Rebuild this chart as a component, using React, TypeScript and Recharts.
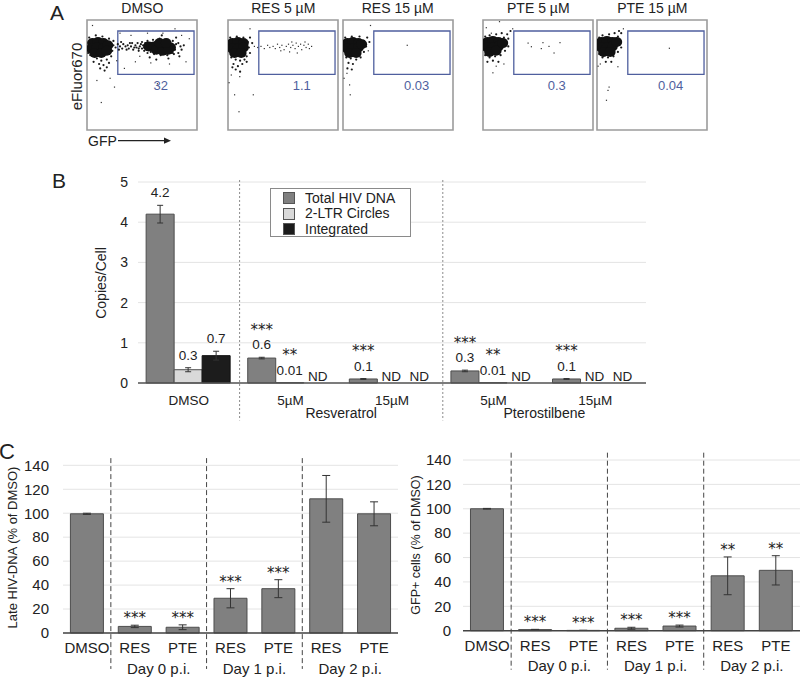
import React from 'react';
import {
  BarChart, Bar, XAxis, YAxis, CartesianGrid, ErrorBar, LabelList, Legend,
  ReferenceLine, ReferenceArea, ReferenceDot, ScatterChart, Scatter,
} from 'recharts';

const FONT = '"Liberation Sans", Arial, Helvetica, sans-serif';
const STAR_FONT = '"DejaVu Sans", sans-serif';
const INK = '#222';
const BAR_GRAY = '#808080';
const BAR_EDGE = '#4d4d4d';
const GATE_BLUE = '#4f5f9e';

// ---------- A: flow cytometry (GFP vs eFluor670), values in 0-100 plot units ----------
const flowTitles = ['DMSO', 'RES 5 µM', 'RES 15 µM', 'PTE 5 µM', 'PTE 15 µM'];
const gateValues = ['32', '1.1', '0.03', '0.3', '0.04'];
const flowTicks = [0, 8, 12, 15, 17.5, 19.5, 21, 22.5, 24, 25, 33, 37, 40, 42.5, 44.5, 46, 47.5, 49, 50,
  58, 62, 65, 67.5, 69.5, 71, 72.5, 74, 75, 83, 87, 90, 92.5, 94.5, 96, 97.5, 99, 100];
const yFlowTicks = [0, 25, 50, 75, 100];

const dmsoCore = [
  { x: 5, y: 79 }, { x: 10, y: 80 }, { x: 15, y: 79 }, { x: 4, y: 74 }, { x: 9, y: 75 }, { x: 15, y: 74 },
  { x: 19, y: 77 }, { x: 7, y: 70 }, { x: 13, y: 70 }, { x: 18, y: 72 },
  { x: 56, y: 76 }, { x: 61, y: 76 }, { x: 66, y: 75 }, { x: 71, y: 76 }, { x: 76, y: 75 },
  { x: 63, y: 73 }, { x: 69, y: 72 }, { x: 74, y: 73 }, { x: 66, y: 79 }, { x: 72, y: 79 },
];
const dmsoHaze = [
  { x: 24, y: 77 }, { x: 26, y: 75 }, { x: 28, y: 78 }, { x: 30, y: 76 }, { x: 32, y: 74 }, { x: 33, y: 78 },
  { x: 35, y: 76 }, { x: 37, y: 77 }, { x: 38, y: 74 }, { x: 40, y: 76 }, { x: 41, y: 79 }, { x: 42, y: 73 },
  { x: 44, y: 77 }, { x: 45, y: 75 }, { x: 46, y: 79 }, { x: 47, y: 72 }, { x: 48, y: 76 }, { x: 49, y: 78 },
  { x: 50, y: 74 }, { x: 43, y: 75 }, { x: 39, y: 79 }, { x: 36, y: 73 }, { x: 29, y: 73 }, { x: 31, y: 80 },
  { x: 51, y: 77 }, { x: 52, y: 75 }, { x: 53, y: 79 }, { x: 54, y: 73 }, { x: 50, y: 80 }, { x: 47, y: 74 },
  { x: 55, y: 81 }, { x: 60, y: 82 }, { x: 66, y: 83 }, { x: 72, y: 82 }, { x: 78, y: 81 }, { x: 83, y: 79 },
  { x: 85, y: 76 }, { x: 86, y: 73 }, { x: 83, y: 70 }, { x: 79, y: 69 }, { x: 73, y: 68 }, { x: 67, y: 68 },
  { x: 61, y: 69 }, { x: 55, y: 70 }, { x: 52, y: 72 }, { x: 88, y: 77 }, { x: 57, y: 66 }, { x: 74, y: 65 },
  { x: 81, y: 84 }, { x: 68, y: 86 }, { x: 63, y: 64 }, { x: 84, y: 67 }, { x: 80, y: 73 }, { x: 81, y: 78 },
  { x: 58, y: 71 }, { x: 59, y: 79 }, { x: 78, y: 70 }, { x: 62, y: 80 },
  { x: 2, y: 84 }, { x: 8, y: 86 }, { x: 14, y: 85 }, { x: 20, y: 83 }, { x: 23, y: 72 }, { x: 22, y: 67 },
  { x: 18, y: 64 }, { x: 13, y: 63 }, { x: 9, y: 65 }, { x: 3, y: 68 }, { x: 15, y: 59 }, { x: 18, y: 57 },
  { x: 11, y: 60 }, { x: 16, y: 54 }, { x: 6, y: 62 }, { x: 20, y: 61 }, { x: 12, y: 56 }, { x: 24, y: 81 },
  { x: 1, y: 70 },
];
const dmsoEvents = [
  { x: 25, y: 39 }, { x: 13, y: 25 }, { x: 5, y: 95 }, { x: 30, y: 88 }, { x: 44, y: 62 }, { x: 58, y: 61 },
  { x: 69, y: 88 }, { x: 90, y: 62 }, { x: 34, y: 56 }, { x: 21, y: 47 }, { x: 80, y: 92 }, { x: 64, y: 42 },
  { x: 93, y: 83 }, { x: 48, y: 67 }, { x: 27, y: 63 }, { x: 9, y: 45 }, { x: 40, y: 86 }, { x: 75, y: 60 },
  { x: 55, y: 88 }, { x: 86, y: 86 },
];

const res5Core = [
  { x: 4, y: 79 }, { x: 9, y: 80 }, { x: 14, y: 79 }, { x: 4, y: 74 }, { x: 9, y: 74 }, { x: 14, y: 75 },
  { x: 6, y: 70 }, { x: 12, y: 70 },
];
const res5Haze = [
  { x: 18, y: 80 }, { x: 19, y: 75 }, { x: 20, y: 70 }, { x: 17, y: 67 }, { x: 2, y: 84 }, { x: 8, y: 85 },
  { x: 14, y: 84 }, { x: 20, y: 84 }, { x: 22, y: 79 }, { x: 3, y: 66 }, { x: 7, y: 64 }, { x: 11, y: 63 },
  { x: 15, y: 64 }, { x: 5, y: 60 }, { x: 9, y: 58 }, { x: 13, y: 60 }, { x: 17, y: 62 }, { x: 7, y: 55 },
  { x: 11, y: 53 }, { x: 4, y: 57 },
];
const res5Events = [
  { x: 24, y: 76 }, { x: 27, y: 75 }, { x: 30, y: 76 }, { x: 33, y: 74 }, { x: 36, y: 77 }, { x: 38, y: 75 },
  { x: 41, y: 76 }, { x: 43, y: 74 }, { x: 45, y: 78 }, { x: 47, y: 75 }, { x: 49, y: 77 }, { x: 51, y: 73 },
  { x: 53, y: 76 }, { x: 55, y: 78 }, { x: 57, y: 75 }, { x: 59, y: 77 }, { x: 61, y: 74 }, { x: 62, y: 79 },
  { x: 64, y: 76 }, { x: 66, y: 78 }, { x: 67, y: 73 }, { x: 69, y: 77 }, { x: 71, y: 75 }, { x: 73, y: 78 },
  { x: 74, y: 74 }, { x: 56, y: 71 }, { x: 63, y: 70 }, { x: 48, y: 72 }, { x: 58, y: 80 }, { x: 70, y: 80 },
  { x: 76, y: 76 }, { x: 10.7, y: 48.5 }, { x: 6, y: 32 }, { x: 10, y: 16.6 }, { x: 23, y: 32 }, { x: 1, y: 43 },
  { x: 20, y: 92 }, { x: 3, y: 50 },
];

const res15Core = [
  { x: 4, y: 79 }, { x: 9, y: 80 }, { x: 14, y: 79 }, { x: 4, y: 74 }, { x: 9, y: 74 }, { x: 14, y: 75 },
  { x: 6, y: 70 }, { x: 12, y: 70 }, { x: 17, y: 78 },
];
const res15Haze = [
  { x: 19, y: 81 }, { x: 21, y: 76 }, { x: 19, y: 71 }, { x: 2, y: 84 }, { x: 8, y: 85 }, { x: 15, y: 85 },
  { x: 22, y: 84 }, { x: 24, y: 80 }, { x: 3, y: 66 }, { x: 7, y: 65 }, { x: 12, y: 64 }, { x: 16, y: 66 },
  { x: 5, y: 61 }, { x: 9, y: 60 }, { x: 4, y: 56 }, { x: 8, y: 55 },
];
const res15Events = [
  { x: 6, y: 41 }, { x: 3.6, y: 51.5 }, { x: 6.6, y: 32 }, { x: 58.4, y: 77 }, { x: 25, y: 95 }, { x: 23, y: 72 },
  { x: 1, y: 47 },
];

const pte5Core = [
  { x: 4, y: 80 }, { x: 9, y: 81 }, { x: 14, y: 80 }, { x: 4, y: 75 }, { x: 9, y: 75 }, { x: 14, y: 76 },
  { x: 6, y: 71 }, { x: 12, y: 72 }, { x: 18, y: 79 },
];
const pte5Haze = [
  { x: 19, y: 84 }, { x: 22, y: 87 }, { x: 25, y: 90 }, { x: 17, y: 88 }, { x: 12, y: 87 }, { x: 6, y: 86 },
  { x: 2, y: 85 }, { x: 21, y: 80 }, { x: 23, y: 76 }, { x: 20, y: 72 }, { x: 16, y: 68 }, { x: 11, y: 67 },
  { x: 6, y: 66 }, { x: 2, y: 68 }, { x: 9, y: 63 }, { x: 14, y: 62 }, { x: 4, y: 62 }, { x: 23, y: 83 },
];
const pte5Events = [
  { x: 15, y: 98.5 }, { x: 9, y: 52 }, { x: 7.6, y: 88 }, { x: 41, y: 79 }, { x: 54.5, y: 79.4 }, { x: 60, y: 76 },
  { x: 70, y: 79.4 }, { x: 64.6, y: 70 }, { x: 44, y: 75.7 }, { x: 53, y: 74 }, { x: 27, y: 92 }, { x: 12, y: 58 },
  { x: 19, y: 60 }, { x: 3, y: 93 },
];

const pte15Core = [
  { x: 4, y: 80 }, { x: 9, y: 81 }, { x: 14, y: 80 }, { x: 4, y: 75 }, { x: 9, y: 75 }, { x: 14, y: 76 },
  { x: 6, y: 71 }, { x: 12, y: 71 }, { x: 18, y: 80 },
];
const pte15Haze = [
  { x: 19, y: 85 }, { x: 22, y: 88 }, { x: 16, y: 88 }, { x: 11, y: 87 }, { x: 5, y: 86 }, { x: 2, y: 84 },
  { x: 21, y: 80 }, { x: 22, y: 75 }, { x: 19, y: 71 }, { x: 15, y: 67 }, { x: 10, y: 66 }, { x: 5, y: 66 },
  { x: 2, y: 69 }, { x: 8, y: 62 }, { x: 13, y: 62 }, { x: 20, y: 90 },
];
const pte15Events = [
  { x: 10, y: 36 }, { x: 8.6, y: 27 }, { x: 19, y: 57.5 }, { x: 65.8, y: 74.3 }, { x: 11, y: 39 }, { x: 3, y: 60 },
  { x: 24, y: 92 }, { x: 1, y: 58 },
];

const flowGate = { x1: 28, x2: 97.3, y1: 50.6, y2: 90 };
const gateLabelPos = { x: 67, y: 41 };

// ---------- B: HIV DNA forms, copies per cell ----------
const bGroups = ['DMSO', 'RES5', 'RES15', 'PTE5', 'PTE15'];
const bTickLabels = ['DMSO', '5µM', '15µM', '5µM', '15µM'];
const bDrugs = ['Resveratrol', 'Pterostilbene'];
const bDrugAt = ['RES15', 'PTE15'];      // drug label sits on the left edge of these groups
const bDividers = ['RES5', 'PTE5'];      // dotted lines on the left edge of these groups
const bTicks = [0, 1, 2, 3, 4, 5];
const bSeries = ['Total HIV DNA', '2-LTR Circles', 'Integrated'];
const totalDNA = [4.2, 0.62, 0.1, 0.3, 0.1];
const totalErr = [0.22, 0.02, 0.01, 0.02, 0.01];
const totalText = ['4.2', '0.6', '0.1', '0.3', '0.1'];
const totalSig = ['', '***', '***', '***', '***'];
const ltrCircles = [0.33, 0.01, 0, 0.01, 0];
const ltrErr = [0.05, 0, 0, 0, 0];
const ltrText = ['0.3', '0.01', 'ND', '0.01', 'ND'];
const ltrSig = ['', '**', '', '**', ''];
const integrated = [0.68, 0, 0, 0, 0];
const integratedErr = [0.11, 0, 0, 0, 0];
const integratedText = ['0.7', 'ND', 'ND', 'ND', 'ND'];
const integratedSig = ['', '', '', '', ''];

// ---------- C: late HIV-DNA and GFP+ cells, % of DMSO ----------
const cKeys = ['DMSO', 'RES0', 'PTE0', 'RES1', 'PTE1', 'RES2', 'PTE2'];
const cTickLabels = ['DMSO', 'RES', 'PTE', 'RES', 'PTE', 'RES', 'PTE'];
const cDays = ['Day 0 p.i.', 'Day 1 p.i.', 'Day 2 p.i.'];
const cDayAt = ['PTE0', 'PTE1', 'PTE2'];
const cDividers = ['RES0', 'RES1', 'RES2'];
const cTicks = [0, 20, 40, 60, 80, 100, 120, 140];
const lateDNA = [99.5, 5.5, 4.8, 29, 37, 112, 99.5];
const lateErr = [0.5, 1, 2, 8, 7.5, 19.5, 10];
const lateSig = ['', '***', '***', '***', '***', '', ''];
const gfpCells = [100, 0.9, 0.25, 2, 3.8, 45, 49.5];
const gfpErr = [0.3, 0.2, 0.1, 0.8, 0.8, 15.5, 12];
const gfpSig = ['', '***', '***', '***', '***', '**', '**'];

const bRows = bGroups.map((g, i) => ({
  group: g, total: totalDNA[i], totalErr: totalErr[i], ltr: ltrCircles[i], ltrErr: ltrErr[i],
  integrated: integrated[i], integratedErr: integratedErr[i],
}));
const lateRows = cKeys.map((k, i) => ({ key: k, value: lateDNA[i], err: lateErr[i] }));
const gfpRows = cKeys.map((k, i) => ({ key: k, value: gfpCells[i], err: gfpErr[i] }));

const flowPanels = [
  { core: dmsoCore, haze: dmsoHaze, events: dmsoEvents },
  { core: res5Core, haze: res5Haze, events: res5Events },
  { core: res15Core, haze: res15Haze, events: res15Events },
  { core: pte5Core, haze: pte5Haze, events: pte5Events },
  { core: pte15Core, haze: pte15Haze, events: pte15Events },
];

// left edges of the five flow boxes (page px)
const flowLeft = [87.3, 228.3, 342.7, 483.3, 597.3];

const CoreDot = (p: any) => <ellipse cx={p.cx} cy={p.cy} rx={5.4} ry={5} fill="#111" />;
const HazeDot = (p: any) => <circle cx={p.cx} cy={p.cy} r={1.1} fill="#1a1a1a" />;
const EventDot = (p: any) => <rect x={p.cx - 0.6} y={p.cy - 0.6} width={1.2} height={1.2} fill="#333" />;

function FlowPlot({ left, core, haze, events, gateValue }: any) {
  return (
    <div style={{ position: 'absolute', left: left - 4, top: 18 }}>
      <ScatterChart width={116} height={116} margin={{ top: 2, right: 2, bottom: 0, left: 0 }}>
        <XAxis type="number" dataKey="x" domain={[0, 100]} allowDataOverflow ticks={flowTicks} interval={0}
          tick={false} axisLine={false} tickSize={2} height={4} stroke="#8a8a8a" />
        <YAxis type="number" dataKey="y" domain={[0, 100]} allowDataOverflow ticks={yFlowTicks} interval={0}
          tick={false} axisLine={false} tickSize={2} width={4} stroke="#8a8a8a" />
        <ReferenceArea x1={0} x2={100} y1={0} y2={100} fill="none" fillOpacity={0} stroke="#9c9c9c" strokeWidth={1.6} />
        <Scatter data={haze} shape={HazeDot} isAnimationActive={false} />
        <Scatter data={core} shape={CoreDot} isAnimationActive={false} />
        <Scatter data={events} shape={EventDot} isAnimationActive={false} />
        <ReferenceArea {...flowGate} fill="none" fillOpacity={0} stroke={GATE_BLUE} strokeWidth={1.3} />
        <ReferenceDot x={gateLabelPos.x} y={gateLabelPos.y} r={0} fill="none" stroke="none"
          label={{ value: gateValue, position: 'center', fill: GATE_BLUE, fontSize: 13, fontFamily: FONT }} />
      </ScatterChart>
    </div>
  );
}

// all value / ND / star labels of one B group, hung off the Total bar (always non-zero)
const bSeriesValues = [totalDNA, ltrCircles, integrated];
const bSeriesErrs = [totalErr, ltrErr, integratedErr];
const bSeriesText = [totalText, ltrText, integratedText];
const bSeriesSig = [totalSig, ltrSig, integratedSig];

const bGroupLabel = (props: any) => {
  const vb = props.viewBox || props;
  const i = props.index ?? 0;
  const { x, y, width, height } = vb;
  const base0 = y + height;
  const ppu = totalDNA[i] > 0 ? height / totalDNA[i] : 0;
  return (
    <g>
      {bSeriesValues.map((vals, j) => {
        const cx = x + width * (j + 0.5);
        const text = bSeriesText[j][i];
        const top = base0 - (vals[i] + bSeriesErrs[j][i]) * ppu;
        const base = text === 'ND' ? base0 - 2.5 : top - 8;
        const sig = bSeriesSig[j][i];
        return (
          <g key={j}>
            <text x={cx} y={base} textAnchor="middle" fontSize={13.5} fill={INK} fontFamily={FONT}>{text}</text>
            {sig ? (
              <text x={cx} y={base - 14.5} textAnchor="middle" fontSize={15} fill={INK} fontFamily={STAR_FONT}>{sig}</text>
            ) : null}
          </g>
        );
      })}
    </g>
  );
};

// significance stars above the error bars of C
const cStars = (values: number[], errs: number[], sigs: string[]) => (props: any) => {
  const vb = props.viewBox || props;
  const i = props.index ?? 0;
  const { x, y, width, height } = vb;
  if (!sigs[i]) return null;
  const v = values[i];
  const ppu = v > 0 ? height / v : 0;
  const top = y - (errs[i] || 0) * ppu;
  return (
    <text x={x + width / 2} y={top - 2} textAnchor="middle" fontSize={15} fill={INK} fontFamily={STAR_FONT}>{sigs[i]}</text>
  );
};

const legendColors = [BAR_GRAY, '#d9d9d9', '#1c1c1c'];

function LegendBox() {
  return (
    <div style={{
      boxSizing: 'border-box', width: 141, height: 49, border: '1px solid #8a8a8a', background: '#fff',
      padding: '1.5px 0 0 12px', fontFamily: FONT, fontSize: 14, color: INK, lineHeight: '15.5px',
    }}>
      {bSeries.map((name, j) => (
        <div key={name} style={{ display: 'flex', alignItems: 'center', height: 15.5 }}>
          <span style={{
            display: 'inline-block', width: 12, height: 12, boxSizing: 'border-box',
            background: legendColors[j], border: '1px solid #555', marginRight: 10,
          }} />
          {name}
        </div>
      ))}
    </div>
  );
}

function PanelB() {
  const tick = { fontSize: 14, fill: INK, fontFamily: FONT };
  return (
    <div style={{ position: 'absolute', left: 0, top: 170 }}>
      <BarChart width={660} height={254} data={bRows} margin={{ top: 12, right: 14, bottom: 21, left: 0 }}
        barCategoryGap="8%" barGap={0}>
        <CartesianGrid vertical={false} stroke="#e4e4e4" />
        <XAxis dataKey="group" interval={0} tickFormatter={(_v: any, i: number) => bTickLabels[i]}
          tickLine={false} tickSize={0} tickMargin={12} height={20}
          axisLine={{ stroke: '#555', strokeWidth: 1.5 }} tick={{ ...tick, fontSize: 13.5 }} />
        <YAxis domain={[0, 5]} ticks={bTicks} axisLine={false} tickLine={false} tickSize={0} tickMargin={10}
          width={138} tick={tick} />
        {bDividers.map((d) => (
          <ReferenceLine key={d} position="start" segment={[{ x: d, y: 5.05 }, { x: d, y: -0.93 }]} ifOverflow="visible"
            stroke="#8a8a8a" strokeDasharray="2 2" strokeWidth={1} />
        ))}
        {bDrugAt.map((d, k) => (
          <ReferenceLine key={d} x={d} position="start" stroke="none" ifOverflow="visible"
            label={{ value: bDrugs[k], position: 'bottom', offset: 25, fill: INK, fontSize: 14, fontFamily: FONT }} />
        ))}
        <Legend layout="vertical" align="center" verticalAlign="middle"
          wrapperStyle={{ left: 270, top: 18, width: 141, height: 49 }}
          content={() => <LegendBox />} />
        <Bar dataKey="total" name={bSeries[0]} fill={BAR_GRAY} stroke={BAR_EDGE} strokeWidth={1} isAnimationActive={false}>
          <ErrorBar dataKey="totalErr" width={3} stroke="#333" strokeWidth={1} direction="y" />
          <LabelList content={bGroupLabel} />
        </Bar>
        <Bar dataKey="ltr" name={bSeries[1]} fill="#d9d9d9" stroke={BAR_EDGE} strokeWidth={1} isAnimationActive={false}>
          <ErrorBar dataKey="ltrErr" width={3} stroke="#333" strokeWidth={1} direction="y" />
        </Bar>
        <Bar dataKey="integrated" name={bSeries[2]} fill="#1c1c1c" stroke="#111" strokeWidth={1} isAnimationActive={false}>
          <ErrorBar dataKey="integratedErr" width={3} stroke="#333" strokeWidth={1} direction="y" />
        </Bar>
      </BarChart>
    </div>
  );
}

function PanelC({ left, top, rows, values, errs, sigs, marginTop, plotHeight, tickMargin, dayOffset, yMargin, bottomY }: any) {
  const tick = { fontSize: 15, fill: INK, fontFamily: FONT };
  return (
    <div style={{ position: 'absolute', left, top }}>
      <BarChart width={400} height={marginTop + plotHeight + 45} data={rows}
        margin={{ top: marginTop, right: left === 0 ? 2 : 0, bottom: 25, left: 0 }} barCategoryGap="15.5%">
        <CartesianGrid vertical={false} stroke="#e4e4e4" />
        <XAxis dataKey="key" interval={0} tickFormatter={(_v: any, i: number) => cTickLabels[i]}
          tickLine={false} tickSize={0} tickMargin={tickMargin} height={20}
          axisLine={{ stroke: '#444', strokeWidth: 1.5 }} tick={tick} />
        <YAxis domain={[0, 140]} ticks={cTicks} axisLine={false} tickLine={false} tickSize={0} tickMargin={yMargin}
          width={63} tick={tick} />
        {cDividers.map((d) => (
          <ReferenceLine key={d} position="start" segment={[{ x: d, y: 146 }, { x: d, y: bottomY }]} ifOverflow="visible"
            stroke="#444" strokeDasharray="5 3" strokeWidth={1} />
        ))}
        {cDayAt.map((d, k) => (
          <ReferenceLine key={d} x={d} position="start" stroke="none" ifOverflow="visible"
            label={{ value: cDays[k], position: 'bottom', offset: dayOffset, fill: INK, fontSize: 15, fontFamily: FONT }} />
        ))}
        <Bar dataKey="value" fill={BAR_GRAY} stroke={BAR_EDGE} strokeWidth={1} isAnimationActive={false}>
          <ErrorBar dataKey="err" width={4} stroke="#333" strokeWidth={1} direction="y" />
          <LabelList content={cStars(values, errs, sigs)} />
        </Bar>
      </BarChart>
    </div>
  );
}

function Overlay() {
  const t = { fontFamily: FONT, fill: INK };
  return (
    <svg width={800} height={678} style={{ position: 'absolute', left: 0, top: 0, pointerEvents: 'none' }}>
      <text x={50} y={20} fontSize={21} {...t}>A</text>
      <text x={52} y={188} fontSize={21} {...t}>B</text>
      <text x={-1} y={459} fontSize={22} {...t}>C</text>
      {flowTitles.map((s, i) => (
        <text key={s} x={flowLeft[i] + 55} y={13} fontSize={14} textAnchor="middle" {...t}>{s}</text>
      ))}
      <text transform="translate(82,76.5) rotate(-90)" fontSize={15} textAnchor="middle" {...t}>eFluor670</text>
      <text x={88} y={145.5} fontSize={14} {...t}>GFP</text>
      <line x1={118} y1={140.7} x2={165} y2={140.7} stroke={INK} strokeWidth={1.2} />
      <polygon points="164,137.6 171,140.7 164,143.8" fill={INK} />
      <text transform="translate(106,283) rotate(-90)" fontSize={14} textAnchor="middle" {...t}>Copies/Cell</text>
      <text transform="translate(17,547.5) rotate(-90)" fontSize={13} textAnchor="middle" {...t}>Late HIV-DNA (% of DMSO)</text>
      <text transform="translate(419.5,545) rotate(-90)" fontSize={12.5} textAnchor="middle" {...t}>GFP+ cells (% of DMSO)</text>
    </svg>
  );
}

export default function App() {
  return (
    <div style={{ position: 'absolute', left: 0, top: 0, width: 800, height: 678, background: '#fff', overflow: 'hidden', fontFamily: FONT }}>
      {flowPanels.map((p, i) => (
        <FlowPlot key={i} left={flowLeft[i]} gateValue={gateValues[i]} {...p} />
      ))}
      <PanelB />
      <PanelC left={0} top={440} rows={lateRows} values={lateDNA} errs={lateErr} sigs={lateSig}
        marginTop={25.3} plotHeight={167.7} tickMargin={9} dayOffset={30} yMargin={14} bottomY={-30} />
      <PanelC left={400} top={440} rows={gfpRows} values={gfpCells} errs={gfpErr} sigs={gfpSig}
        marginTop={20} plotHeight={170.7} tickMargin={10} dayOffset={29.5} yMargin={12} bottomY={-32} />
      <Overlay />
    </div>
  );
}
